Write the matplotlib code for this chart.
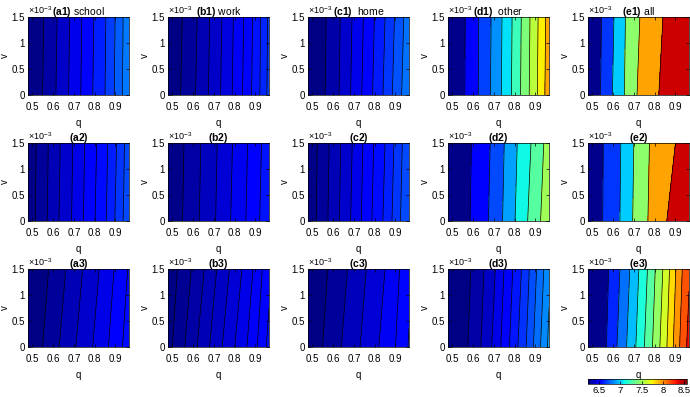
import numpy as np
import matplotlib
matplotlib.use('Agg')
import matplotlib.pyplot as plt
from matplotlib.colors import Normalize
from matplotlib.ticker import FuncFormatter
from matplotlib.cm import ScalarMappable

plt.rcParams['font.family'] = ['Liberation Sans', 'DejaVu Sans']
plt.rcParams['mathtext.fontset'] = 'custom'
plt.rcParams['mathtext.rm'] = 'Liberation Sans'
plt.rcParams['mathtext.bf'] = 'Liberation Sans:bold'


## grid of every map: q along x, v along y
qNodes = [0.48, 0.55, 0.625, 0.7, 0.775, 0.85, 0.9, 0.94, 0.965]
vNodes = [0, 1.5e-3]

## map values, first row at v = 0, second row at v = 1.5e-3
zA1 = [[6.27, 6.32, 6.402, 6.489, 6.581, 6.67, 6.749, 6.822, 6.87],
       [6.264, 6.314, 6.396, 6.483, 6.575, 6.664, 6.743, 6.816, 6.864]]
zB1 = [[6.26, 6.306, 6.353, 6.41, 6.468, 6.536, 6.59, 6.638, 6.675],
       [6.255, 6.301, 6.348, 6.405, 6.463, 6.531, 6.585, 6.633, 6.67]]
zC1 = [[6.26, 6.318, 6.39, 6.478, 6.57, 6.668, 6.742, 6.80, 6.84],
       [6.257, 6.314, 6.384, 6.47, 6.56, 6.655, 6.727, 6.785, 6.825]]
zD1 = [[6.27, 6.47, 6.68, 6.909, 7.18, 7.49, 7.715, 7.914, 8.04],
       [6.268, 6.465, 6.672, 6.9, 7.168, 7.475, 7.698, 7.895, 8.02]]
zE1 = [[6.28, 6.71, 7.17, 7.88, 8.22, 8.52, 8.54, 8.555, 8.56],
       [6.275, 6.68, 7.12, 7.83, 8.14, 8.44, 8.5, 8.53, 8.545]]

zA2 = [[6.27, 6.33, 6.397, 6.459, 6.526, 6.593, 6.654, 6.704, 6.74],
       [6.267, 6.326, 6.392, 6.454, 6.52, 6.585, 6.643, 6.695, 6.733]]
zB2 = [[6.27, 6.32, 6.367, 6.414, 6.466, 6.517, 6.555, 6.585, 6.605],
       [6.267, 6.316, 6.362, 6.409, 6.46, 6.511, 6.548, 6.578, 6.598]]
zC2 = [[6.265, 6.327, 6.395, 6.464, 6.539, 6.61, 6.67, 6.72, 6.75],
       [6.262, 6.322, 6.389, 6.457, 6.531, 6.6, 6.659, 6.709, 6.74]]
zD2 = [[6.27, 6.42, 6.585, 6.76, 7.01, 7.26, 7.42, 7.55, 7.62],
       [6.265, 6.41, 6.57, 6.74, 6.98, 7.22, 7.36, 7.5, 7.58]]
zE2 = [[6.28, 6.648, 6.94, 7.49, 8.0, 8.38, 8.5, 8.54, 8.56],
       [6.275, 6.638, 6.91, 7.45, 7.95, 8.30, 8.40, 8.48, 8.52]]

zA3 = [[6.265, 6.30, 6.347, 6.394, 6.44, 6.488, 6.525, 6.555, 6.575],
       [6.255, 6.283, 6.327, 6.374, 6.42, 6.468, 6.505, 6.535, 6.555]]
zB3 = [[6.268, 6.309, 6.353, 6.397, 6.44, 6.484, 6.518, 6.551, 6.57],
       [6.258, 6.292, 6.333, 6.377, 6.42, 6.464, 6.498, 6.531, 6.55]]
zC3 = [[6.265, 6.30, 6.35, 6.40, 6.45, 6.50, 6.54, 6.58, 6.605],
       [6.255, 6.285, 6.33, 6.38, 6.43, 6.48, 6.52, 6.56, 6.585]]
zD3 = [[6.26, 6.295, 6.369, 6.463, 6.58, 6.70, 6.794, 6.87, 6.92],
       [6.255, 6.285, 6.352, 6.44, 6.555, 6.672, 6.765, 6.84, 6.89]]
zE3 = [[6.27, 6.56, 6.81, 7.09, 7.40, 7.76, 8.04, 8.26, 8.37],
       [6.27, 6.53, 6.76, 7.03, 7.34, 7.69, 7.97, 8.19, 8.30]]

## contour levels of each map
linesA1 = [6.32, 6.39, 6.46, 6.53, 6.60, 6.67, 6.74, 6.81]
linesB1 = [6.30, 6.345, 6.39, 6.435, 6.48, 6.525, 6.57, 6.615, 6.66]
linesC1 = [6.33, 6.395, 6.46, 6.525, 6.59, 6.655, 6.72, 6.785]
linesD1 = [6.5, 6.68, 6.86, 7.04, 7.22, 7.40, 7.58, 7.76, 7.94]
linesE1 = [6.65, 7.0, 7.45, 7.95, 8.4]
linesA2 = [6.30, 6.35, 6.40, 6.45, 6.50, 6.55, 6.60, 6.65, 6.70]
linesB2 = [6.32, 6.37, 6.42, 6.47, 6.52, 6.57]
linesC2 = [6.30, 6.35, 6.40, 6.45, 6.50, 6.55, 6.60, 6.65, 6.70]
linesD2 = [6.5, 6.7, 6.9, 7.1, 7.3, 7.5]
linesE2 = [6.65, 7.0, 7.45, 7.95, 8.4]
linesA3 = [6.30, 6.35, 6.40, 6.45, 6.50, 6.55]
linesB3 = [6.28, 6.315, 6.35, 6.385, 6.42, 6.455, 6.49, 6.525, 6.56]
linesC3 = [6.30, 6.36, 6.42, 6.48, 6.54, 6.60]
linesD3 = [6.32, 6.385, 6.45, 6.515, 6.58, 6.645, 6.71, 6.775, 6.84, 6.905]
linesE3 = [6.62, 6.79, 6.96, 7.13, 7.30, 7.47, 7.64, 7.81, 7.98, 8.15, 8.32]

panelTags = ['a1', 'b1', 'c1', 'd1', 'e1',
             'a2', 'b2', 'c2', 'd2', 'e2',
             'a3', 'b3', 'c3', 'd3', 'e3']
panelNames = ['school', 'work', ' home', ' other', 'all'] + [''] * 10
panelZ = [zA1, zB1, zC1, zD1, zE1, zA2, zB2, zC2, zD2, zE2, zA3, zB3, zC3, zD3, zE3]
panelLines = [linesA1, linesB1, linesC1, linesD1, linesE1,
              linesA2, linesB2, linesC2, linesD2, linesE2,
              linesA3, linesB3, linesC3, linesD3, linesE3]

cbTicks = [6.5, 7, 7.5, 8, 8.5]
norm = Normalize(6.24, 8.56)
cmap = plt.cm.jet


W, H = 690, 397
fig = plt.figure(figsize=(W / 100, H / 100), dpi=100)

colLeft = [28, 168, 308, 448, 588]
rowTop = [17, 143, 269]
axW, axH = 101, 78

fmt = FuncFormatter(lambda x, pos: '%g' % round(x, 3))
vfmt = FuncFormatter(lambda x, pos: '%g' % round(x * 1e3, 3))

for i in range(15):
	r, c = divmod(i, 5)
	ax = fig.add_axes([colLeft[c] / W, 1 - (rowTop[r] + axH) / H, axW / W, axH / H])
	z = np.array(panelZ[i])
	lines = panelLines[i]
	bounds = [z.min() - 0.001] + lines + [z.max() + 0.001]
	## MATLAB style: each band takes the colour of its lower level
	fillColors = cmap(norm([z.min()] + lines))
	ax.contourf(qNodes, vNodes, z, levels=bounds, colors=fillColors)
	ax.contour(qNodes, vNodes, z, levels=lines, colors='k', linewidths=0.5)
	ax.set_xlim(0.48, 0.965)
	ax.set_ylim(0, 1.5e-3)
	ax.set_xticks([0.5, 0.6, 0.7, 0.8, 0.9])
	ax.set_yticks([0, 0.5e-3, 1e-3, 1.5e-3])
	ax.xaxis.set_major_formatter(fmt)
	ax.yaxis.set_major_formatter(vfmt)
	ax.tick_params(direction='in', length=2, width=0.5, labelsize=7,
	               top=True, right=True)
	ax.tick_params(axis='x', pad=5)
	ax.tick_params(axis='y', pad=2.5)
	for s in ax.spines.values():
		s.set_linewidth(0.5)
	ax.set_xlabel('q', fontsize=7, labelpad=4)
	ax.set_ylabel('v', fontsize=7, labelpad=1)
	ax.text(0, 1.01, r'$\times$10$^{-3}$', transform=ax.transAxes,
	        ha='left', va='bottom', fontsize=6.5)
	title = r'$\mathbf{(%s)}$' % panelTags[i]
	if panelNames[i]:
		title += ' ' + panelNames[i]
	ax.set_title(title, fontsize=7.5, pad=1.5)

## shared colour bar (its label is the q of the panel above)
cax = fig.add_axes([588 / W, 1 - 384 / H, 99 / W, 5 / H])
sm = ScalarMappable(norm=norm, cmap=cmap)
cb = fig.colorbar(sm, cax=cax, orientation='horizontal', ticks=cbTicks)
cb.ax.xaxis.set_major_formatter(fmt)
cb.ax.tick_params(direction='in', length=2, width=0.5, labelsize=6.8, pad=1.5)
cb.outline.set_linewidth(0.5)

fig.savefig('out.png', dpi=100)
